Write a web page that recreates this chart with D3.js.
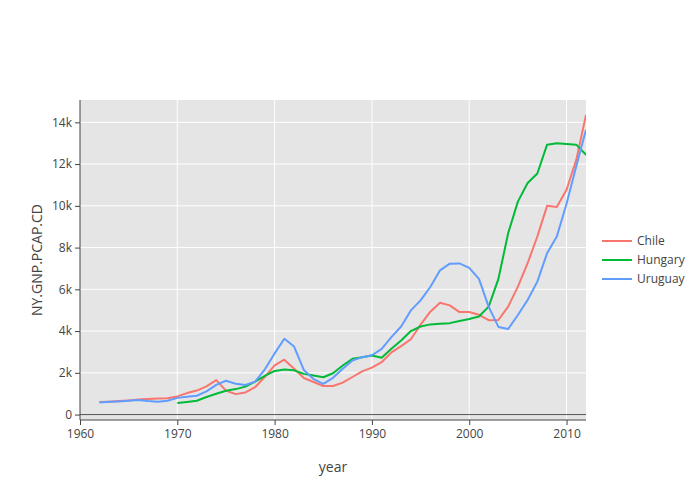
<!DOCTYPE html>
<html>
<head>
<meta charset="utf-8">
<script src="https://cdn.jsdelivr.net/npm/d3@7"></script>
<style>
  body { margin: 0; background: #fff; }
  svg { font-family: "Open Sans", sans-serif; }
</style>
</head>
<body>
<div id="chart"></div>
<script>
// GNP per capita (current US$)
const chileYears = d3.range(1962, 2013);
const chileValues = [
    600, 620, 650, 680, 720, 750, 770, 780, 870, 1030,
    1150, 1350, 1650, 1150, 980, 1060, 1310, 1810, 2360, 2630,
    2200, 1750, 1560, 1370, 1370, 1530, 1800, 2070, 2250, 2510,
    2980, 3280, 3610, 4310, 4930, 5360, 5230, 4910, 4910, 4780,
    4520, 4530, 5170, 6130, 7250, 8530, 10000, 9940, 10770, 12200,
    14350
];

const hungaryYears = d3.range(1970, 2013);
const hungaryValues = [
    550, 600, 660, 840, 1000, 1140, 1220, 1340, 1580, 1850,
    2090, 2160, 2120, 1950, 1870, 1790, 1980, 2350, 2670, 2750,
    2830, 2720, 3150, 3550, 4000, 4220, 4320, 4350, 4380, 4480,
    4580, 4700, 5170, 6500, 8690, 10200, 11090, 11550, 12930, 13000,
    12960, 12930, 12450
];

const uruguayYears = d3.range(1962, 2013);
const uruguayValues = [
    580, 610, 630, 660, 700, 650, 620, 660, 800, 850,
    900, 1110, 1420, 1620, 1480, 1420, 1580, 2170, 2930, 3630,
    3260, 2140, 1700, 1470, 1760, 2190, 2590, 2750, 2840, 3150,
    3710, 4220, 4990, 5470, 6110, 6910, 7230, 7240, 7030, 6500,
    5160, 4200, 4100, 4770, 5490, 6370, 7730, 8530, 10100, 11900,
    13650
];

const seriesNames = ['Chile', 'Hungary', 'Uruguay'];
const seriesColors = ['#F8766D', '#00BA38', '#619CFF'];

const xTicks = [1960, 1970, 1980, 1990, 2000, 2010];
const yTicks = [0, 2000, 4000, 6000, 8000, 10000, 12000, 14000];

const config = {
    width: 700,
    height: 500,
    paddingTop: 100,
    paddingLeft: 80,
    paddingBottom: 80,
    paddingRight: 114
};

const makeSeries = () => {
    const pairs = [
        [chileYears, chileValues],
        [hungaryYears, hungaryValues],
        [uruguayYears, uruguayValues]
    ];
    return pairs.map((p, i) => ({
        name: seriesNames[i],
        color: seriesColors[i],
        points: p[0].map((yr, j) => ({ year: yr, value: p[1][j] }))
    }));
};

const makeChart = () => {
    const plotWidth = config.width - config.paddingLeft - config.paddingRight;
    const plotHeight = config.height - config.paddingTop - config.paddingBottom;

    const x = d3.scaleLinear()
        .domain([1960, 2012])
        .range([0, plotWidth]);
    const y = d3.scaleLinear()
        .domain([-260, 15070])
        .range([plotHeight, 0]);

    const svg = d3.select('#chart').append('svg')
        .attr('width', config.width)
        .attr('height', config.height);

    const group = svg.append('g')
        .attr('transform', 'translate(' + config.paddingLeft + ',' + config.paddingTop + ')');

    // plot background
    group.append('rect')
        .attr('width', plotWidth)
        .attr('height', plotHeight)
        .attr('fill', '#e5e5e5');

    // grid lines
    group.selectAll('.xgrid')
        .data(xTicks.filter(d => d > 1960))
        .enter().append('line')
            .attr('x1', d => x(d)).attr('x2', d => x(d))
            .attr('y1', 0).attr('y2', plotHeight)
            .attr('stroke', '#fff').attr('stroke-width', 1);
    group.selectAll('.ygrid')
        .data(yTicks.filter(d => d > 0))
        .enter().append('line')
            .attr('x1', 0).attr('x2', plotWidth)
            .attr('y1', d => y(d)).attr('y2', d => y(d))
            .attr('stroke', '#fff').attr('stroke-width', 1);

    // zero line
    group.append('line')
        .attr('x1', 0).attr('x2', plotWidth)
        .attr('y1', y(0)).attr('y2', y(0))
        .attr('stroke', '#555').attr('stroke-width', 1);

    // the lines
    const line = d3.line()
        .x(d => x(d.year))
        .y(d => y(d.value));
    const clip = svg.append('clipPath').attr('id', 'plot-clip')
        .append('rect').attr('width', plotWidth).attr('height', plotHeight);
    group.append('g')
            .attr('clip-path', 'url(#plot-clip)')
        .selectAll('path')
            .data(makeSeries())
        .enter().append('path')
            .attr('d', d => line(d.points))
            .attr('fill', 'none')
            .attr('stroke', d => d.color)
            .attr('stroke-width', 2)
            .attr('stroke-linejoin', 'round');

    // x axis
    const xAxis = group.append('g')
        .attr('transform', 'translate(0,' + plotHeight + ')')
        .call(d3.axisBottom(x).tickValues(xTicks).tickFormat(d3.format('d')).tickSizeOuter(0).tickSize(5).tickPadding(4));
    // y axis
    const yAxis = group.append('g')
        .call(d3.axisLeft(y).tickValues(yTicks).tickFormat(d => d === 0 ? '0' : (d / 1000) + 'k').tickSizeOuter(0).tickSize(5).tickPadding(3));

    [xAxis, yAxis].forEach(a => {
        a.select('.domain').attr('stroke', '#444');
        a.selectAll('.tick line').attr('stroke', '#444');
        a.selectAll('.tick text')
            .attr('fill', '#444')
            .style('font-size', '12px')
            .style('font-family', '"Open Sans", sans-serif');
    });
    // the y domain line spans the full height
    yAxis.select('.domain').attr('d', 'M0,0V' + plotHeight);
    xAxis.select('.domain').attr('d', 'M0,0H' + plotWidth);

    // axis titles
    svg.append('text')
        .attr('x', config.paddingLeft + plotWidth / 2)
        .attr('y', 472)
        .attr('text-anchor', 'middle')
        .attr('fill', '#444')
        .style('font-size', '14px')
        .text('year');
    svg.append('text')
        .attr('transform', 'translate(42,' + (config.paddingTop + plotHeight / 2) + ') rotate(-90)')
        .attr('text-anchor', 'middle')
        .attr('fill', '#444')
        .style('font-size', '14px')
        .text('NY.GNP.PCAP.CD');

    // legend
    const legend = svg.append('g')
        .attr('transform', 'translate(602,241)');
    const items = legend.selectAll('g')
            .data(seriesNames)
        .enter().append('g')
            .attr('transform', (d, i) => 'translate(0,' + (i * 19) + ')');
    items.append('line')
        .attr('x1', 0).attr('x2', 30)
        .attr('stroke', (d, i) => seriesColors[i])
        .attr('stroke-width', 2);
    items.append('text')
        .attr('x', 35)
        .attr('dy', '0.35em')
        .attr('fill', '#444')
        .style('font-size', '12px')
        .text(d => d);
};

makeChart();
</script>
</body>
</html>
